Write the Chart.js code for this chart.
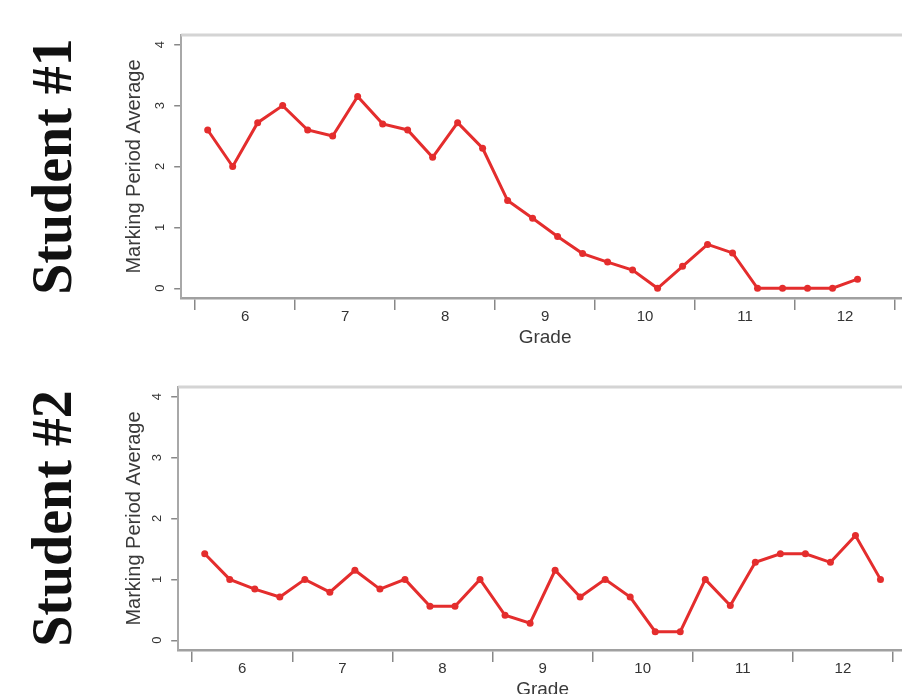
<!DOCTYPE html>
<html>
<head>
<meta charset="utf-8">
<script src="https://cdn.jsdelivr.net/npm/chart.js@4/dist/chart.umd.min.js"></script>
<style>
  html, body { margin: 0; padding: 0; background: #fff; width: 902px; height: 694px; overflow: hidden; }
  canvas { position: absolute; left: 0; }
</style>
</head>
<body>
<canvas id="chart1" width="930" height="380" style="top:0"></canvas>
<canvas id="chart2" width="930" height="380" style="top:352px"></canvas>
<script>
// marking period averages, four marking periods per grade
const gradeLabels = ['6', '7', '8', '9', '10', '11', '12'];
const gradeValues = [6, 7, 8, 9, 10, 11, 12];
const yTicks = [0, 1, 2, 3, 4];

const student1 = [2.6, 2.0, 2.72, 3.0, 2.6, 2.5, 3.15, 2.7, 2.6, 2.15,
  2.72, 2.3, 1.44, 1.15, 0.85, 0.57, 0.43, 0.3, 0.0, 0.36,
  0.72, 0.58, 0.0, 0.0, 0.0, 0.0, 0.15];
const student2 = [1.42, 1.0, 0.84, 0.71, 1.0, 0.79, 1.15, 0.84, 1.0, 0.56,
  0.56, 1.0, 0.41, 0.28, 1.15, 0.71, 1.0, 0.71, 0.14, 0.14,
  1.0, 0.57, 1.28, 1.42, 1.42, 1.28, 1.72, 1.0];

const periodsPerGrade = 4;

// grade g covers g-0.5 .. g+0.5, the periods sit evenly inside it
function periodX(i) {
  const grade = gradeValues[0] + Math.floor(i / periodsPerGrade);
  const period = i % periodsPerGrade;
  return grade - 0.5 + (period + 0.5) / periodsPerGrade;
}

Chart.defaults.font.family = '"Liberation Sans", Arial, sans-serif';

// light box round the plot, like the R frame
const frame = {
  id: 'frame',
  beforeDatasetsDraw(chart) {
    const { ctx, chartArea: a } = chart;
    ctx.save();
    ctx.strokeStyle = '#d4d4d4';
    ctx.lineWidth = 3;
    ctx.beginPath();
    ctx.moveTo(a.left, a.top);
    ctx.lineTo(a.right, a.top);
    ctx.lineTo(a.right, a.bottom);
    ctx.stroke();
    ctx.restore();
  }
};

function makeChart(id, title, values, left, right) {
  const ctx = document.getElementById(id).getContext('2d');
  return new Chart(ctx, {
    type: 'line',
    data: {
      datasets: [{
        data: values.map((v, i) => ({ x: periodX(i), y: v })),
        borderColor: '#e42d2d',
        backgroundColor: '#e42d2d',
        borderWidth: 3,
        pointRadius: 3.5,
        pointBorderWidth: 0,
        tension: 0
      }]
    },
    plugins: [frame],
    options: {
      responsive: false,
      animation: false,
      layout: { padding: { left: 0, top: 35, right: 930 - right, bottom: 27 } },
      plugins: {
        legend: { display: false },
        tooltip: { enabled: false },
        title: {
          display: true,
          text: title,
          position: 'left',
          fullSize: false,
          color: '#111',
          font: { family: '"Liberation Serif", "Times New Roman", serif', size: 56, weight: 'bold', lineHeight: 1.2 },
          padding: { top: 23, bottom: 20 }
        }
      },
      scales: {
        x: {
          type: 'linear',
          min: 5.36,
          max: 12.64,
          afterBuildTicks: s => { s.ticks = gradeValues.map(v => ({ value: v })); },
          afterFit: s => { s.height = 55; },
          ticks: {
            color: '#333',
            font: { size: 15 },
            padding: -2,
            maxRotation: 0,
            callback: (v, i) => gradeLabels[i]
          },
          grid: { offset: true, drawOnChartArea: false, tickLength: 12, color: '#888', lineWidth: 1.5 },
          border: { color: '#a0a0a0', width: 2.5 },
          title: { display: true, text: 'Grade', color: '#3a3a3a', font: { size: 19 }, padding: { top: 0, bottom: 3.6 } }
        },
        y: {
          min: -0.16,
          max: 4.16,
          afterBuildTicks: s => { s.ticks = yTicks.map(v => ({ value: v })); },
          afterFit: s => { s.width = left - 110; },
          ticks: {
            color: '#333',
            font: { size: 13 },
            minRotation: 90,
            maxRotation: 90,
            crossAlign: 'center',
            padding: 10
          },
          grid: { drawOnChartArea: false, tickLength: 7, color: '#888', lineWidth: 1.5 },
          border: { color: '#a8a8a8', width: 2 },
          title: { display: true, text: 'Marking Period Average', color: '#3a3a3a', font: { size: 20 }, padding: { top: 12, bottom: 0 } }
        }
      }
    }
  });
}

makeChart('chart1', 'Student #1', student1, 181, 909);
makeChart('chart2', 'Student #2', student2, 178, 907);
</script>
</body>
</html>
